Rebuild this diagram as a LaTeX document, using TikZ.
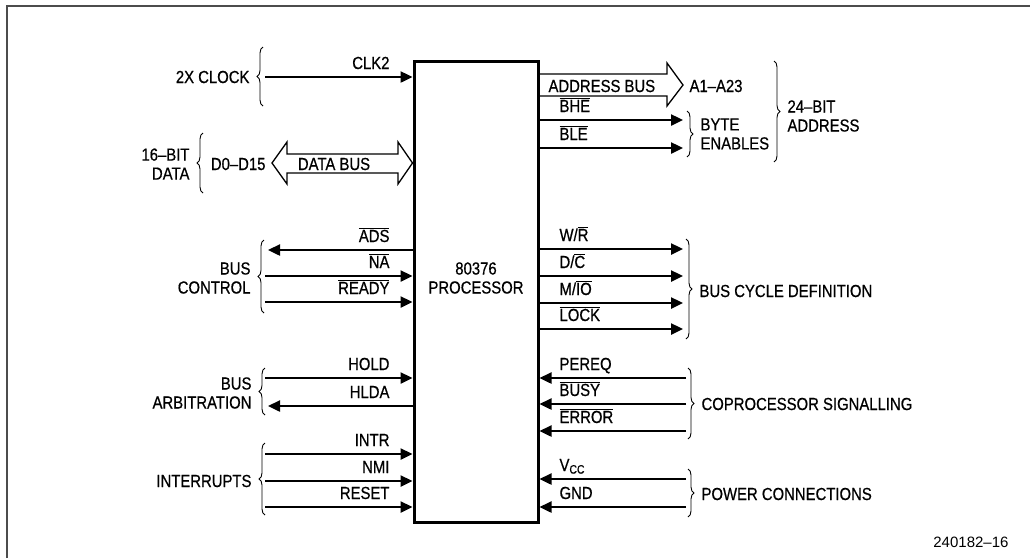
\documentclass[tikz,border=0pt]{standalone}
\usepackage{fontspec}
\setmainfont[FakeStretch=0.85,FakeBold=0.6]{Liberation Sans}
\newfontfamily\plainfont[Ligatures=TeX]{Liberation Sans}
\usetikzlibrary{arrows.meta,decorations.pathreplacing}
\newcommand{\nbar}[1]{$\overline{\mbox{#1}}$}

\begin{document}
\begin{tikzpicture}[x=1pt,y=-1pt,font=\fontsize{17.5}{19}\selectfont,
    sig/.style={line width=2.4pt,-{Triangle[length=12pt,width=11pt]}},
    brc/.style={decorate,decoration={brace,amplitude=6pt},line width=0.9pt},
    bus/.style={line width=1.3pt,line join=miter}]
                \useasboundingbox (0,0) rectangle (1030,558);
                \draw[line width=1.5pt,black!70] (7,558) -- (7,6) -- (1030,6);
                \node[draw,line width=3pt,minimum width=124pt,minimum height=461pt,inner sep=0pt](cpu) at (476,291.5){};
                \node[align=center](cpuname) at (476,278){80376\\PROCESSOR};
                % left side
                \foreach \y/\s[count=\i] in {77/CLK2,276/\nbar{NA},302/\nbar{READY},378/HOLD,454/INTR,481/NMI,507/RESET}{
                    \coordinate (li\i) at (265,\y);
                    \draw[sig] (li\i) -- (li\i -| cpu.west);
                    \node[anchor=base east](lil\i) at (393,\y-8){\s};
                }
                \foreach \y/\s[count=\i] in {250/\nbar{ADS},406/HLDA}{
                    \coordinate (lo\i) at (268,\y);
                    \draw[sig] (lo\i -| cpu.west) -- (lo\i);
                    \node[anchor=base east](lol\i) at (393,\y-8){\s};
                }
                \coordinate (db) at (272,163);
                \draw[bus] (db) -- ++(15,-21) -- ++(0,12) -- (398,154) -- (398,142) -- (db -| cpu.west)
                    -- (398,184) -- (398,173) -- (287,173) -- (287,184) -- cycle;
                \node(dbus) at (334,164){DATA BUS};
                \node[anchor=east](dpins) at (269,164){D0--D15};
                \foreach \x/\a/\b/\t/\ty in {263/106/47/2X CLOCK/77,203/193/133/16--BIT\\DATA/164,
                    264/313/240/BUS\\CONTROL/278,265/415/368/BUS\\ARBITRATION/393,265/515/443/INTERRUPTS/481}{
                    \draw[brc] (\x,\a) -- (\x,\b);
                    \node[anchor=east,align=right] at (\x-10,\ty){\t};
                }
                % right side
                \draw[bus] (cpu.east |- 0,74) -- (667,74) -- (667,63) -- (683,85) -- (667,106) -- (667,96) -- (cpu.east |- 0,96);
                \node[anchor=west](abus) at (545,86){ADDRESS BUS};
                \node[anchor=west](apins) at (686,86){A1--A23};
                \foreach \y/\s[count=\i] in {120/\nbar{BHE},148/\nbar{BLE},249/{W/\nbar{R}},276/{D/\nbar{C}},303/{M/\nbar{IO}},329/\nbar{LOCK}}{
                    \coordinate (ro\i) at (683,\y);
                    \draw[sig] (ro\i -| cpu.east) -- (ro\i);
                    \node[anchor=base west](rol\i) at (556,\y-8){\s};
                }
                \foreach \y/\s[count=\i] in {378/PEREQ,404/\nbar{BUSY},431/\nbar{ERROR},479/V\textsubscript{CC},507/GND}{
                    \coordinate (ri\i) at (686,\y);
                    \draw[sig] (ri\i) -- (ri\i -| cpu.east);
                    \node[anchor=base west](ril\i) at (556,\y-8){\s};
                }
                \foreach \x/\a/\b/\t/\ty in {687/111/157/BYTE\\ENABLES/134,774/61/162/24--BIT\\ADDRESS/116,
                    686/239/339/BUS CYCLE DEFINITION/291,688/368/439/COPROCESSOR SIGNALLING/404,688/469/517/POWER CONNECTIONS/494}{
                    \draw[brc] (\x,\a) -- (\x,\b);
                    \node[anchor=west,align=left] at (\x+10,\ty){\t};
                }
                \node[anchor=east,font=\plainfont\fontsize{15}{17}\selectfont](fig) at (1012,542){240182--16};
            \end{tikzpicture}
\end{document}
